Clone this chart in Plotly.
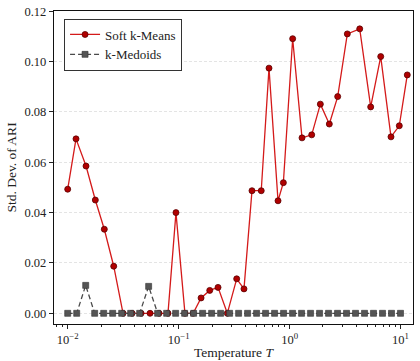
import numpy as np
import plotly.graph_objects as go

# Temperatures and ARI standard deviations for the two clustering methods
soft_T = [0.0100, 0.01188, 0.01463, 0.01774, 0.02138, 0.02600, 0.03154, 0.03802,
          0.04583, 0.05524, 0.06659, 0.08017, 0.0946, 0.1140, 0.1351, 0.1593,
          0.1907, 0.2265, 0.2747, 0.3337, 0.3882, 0.4584, 0.5555, 0.6526,
          0.7869, 0.8791, 1.0666, 1.2946, 1.5835, 1.8940, 2.2820, 2.7158,
          3.3157, 4.2894, 5.3869, 6.6326, 8.2096, 9.7526, 11.51]
soft_std = [0.0493, 0.0693, 0.0585, 0.0450, 0.0334, 0.0187, 0.0, 0.0,
            0.0, 0.0, 0.0, 0.0, 0.0400, 0.0, 0.0, 0.0061,
            0.0091, 0.0103, 0.0, 0.0137, 0.0097, 0.0487, 0.0487, 0.0974,
            0.0447, 0.0519, 0.1091, 0.0697, 0.0709, 0.0831, 0.0752, 0.0861,
            0.1110, 0.1130, 0.0820, 0.1020, 0.0701, 0.0745, 0.0947]

medoid_T = np.logspace(-2, 1, 38)
medoid_std = [0.0, 0.0, 0.0111, 0.0, 0.0, 0.0, 0.0, 0.0, 0.0, 0.0107,
              0.0, 0.0, 0.0, 0.0, 0.0, 0.0, 0.0, 0.0, 0.0, 0.0,
              0.0, 0.0, 0.0, 0.0, 0.0, 0.0, 0.0, 0.0, 0.0, 0.0,
              0.0, 0.0, 0.0, 0.0, 0.0, 0.0, 0.0, 0.0]

x_tickvals = [0.01, 0.1, 1, 10]
x_ticktext = ["10<sup>\u22122</sup>", "10<sup>\u22121</sup>", "10<sup>0</sup>", "10<sup>1</sup>"]
y_tickvals = [0.00, 0.02, 0.04, 0.06, 0.08, 0.10, 0.12]
y_ticktext = ["0.00", "0.02", "0.04", "0.06", "0.08", "0.10", "0.12"]

minor_vals = [m * 10.0 ** e for e in range(-3, 2) for m in range(2, 10)]

FONT = "Liberation Serif"

fig = go.Figure()
fig.add_trace(go.Scatter(
    x=soft_T, y=soft_std, name="Soft k-Means", mode="lines+markers",
    line=dict(color="#d41a1a", width=1.3),
    marker=dict(symbol="circle", size=6, color="#b00000",
                line=dict(color="#5a0000", width=0.8)),
))
fig.add_trace(go.Scatter(
    x=medoid_T, y=medoid_std, name="k-Medoids", mode="lines+markers",
    line=dict(color="#4a4a4a", width=1.3, dash="5px,3px"),
    marker=dict(symbol="square", size=6, color="#555555",
                line=dict(color="#333333", width=0.6)),
))

fig.update_layout(
    width=420, height=361,
    margin=dict(l=54, r=7, t=11, b=37, autoexpand=False),
    paper_bgcolor="white", plot_bgcolor="white",
    font=dict(family=FONT, size=12.5, color="#222222"),
    showlegend=True,
    legend=dict(
        x=0.028, y=0.976, xanchor="left", yanchor="top",
        bgcolor="white", bordercolor="#333333", borderwidth=1,
        font=dict(family=FONT, size=13, color="#222222"),
        tracegroupgap=0, itemwidth=30,
    ),
)

fig.update_xaxes(
    type="log", range=[-2.1235, 1.1127], automargin=False,
    tickmode="array", tickvals=x_tickvals, ticktext=x_ticktext,
    ticks="outside", ticklen=4, tickwidth=1, tickcolor="#222222",
    minor=dict(tickmode="array", tickvals=minor_vals, ticks="outside",
               ticklen=2, tickwidth=0.8, tickcolor="#222222", showgrid=False),
    showgrid=False, zeroline=False,
    showline=True, linecolor="#111111", linewidth=1.3, mirror=True,
    tickfont=dict(family=FONT, size=12.5),
    title=dict(text="Temperature <i>T</i>", font=dict(family=FONT, size=13.5), standoff=1),
)
fig.update_yaxes(
    range=[-0.00425, 0.1201], automargin=False,
    tickmode="array", tickvals=y_tickvals, ticktext=y_ticktext,
    ticks="outside", ticklen=4, tickwidth=1, tickcolor="#222222",
    showgrid=True, gridcolor="#e4e4e4", gridwidth=0.8, griddash="3px,2px",
    zeroline=False,
    showline=True, linecolor="#111111", linewidth=1.3, mirror=True,
    tickfont=dict(family=FONT, size=12.5),
    title=dict(text="Std. Dev. of ARI", font=dict(family=FONT, size=13.5), standoff=4),
)

fig.write_html("out.html")
